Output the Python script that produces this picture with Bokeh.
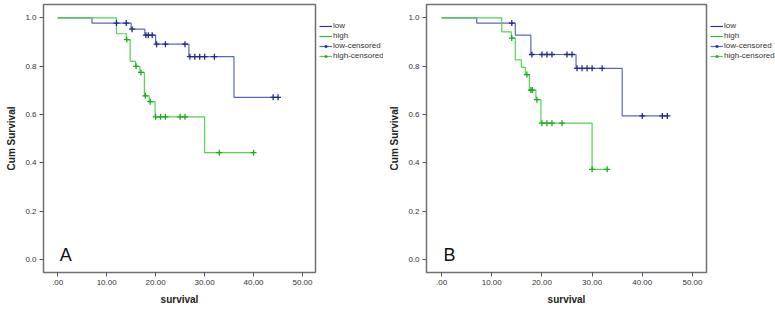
from bokeh.plotting import figure
from bokeh.models import FixedTicker, Legend, LegendItem, Range1d
from bokeh.layouts import row
from bokeh.embed import file_html
from bokeh.resources import INLINE
from bokeh.core.properties import value
import numpy as np

# ---------------- data ----------------
x_ticks = [0, 10, 20, 30, 40, 50]
x_tick_labels = [".00", "10.00", "20.00", "30.00", "40.00", "50.00"]
y_ticks = [0.0, 0.2, 0.4, 0.6, 0.8, 1.0]
y_tick_labels = ["0.0", "0.2", "0.4", "0.6", "0.8", "1.0"]

# Panel A
a_low_t = [0, 7, 15, 17.8, 20, 26.8, 36, 45]
a_low_s = [1.0, 0.978, 0.953, 0.928, 0.891, 0.839, 0.671, 0.671]
a_low_cens = [12, 14, 15.2, 18, 18.5, 19.3, 20.2, 22, 26, 27, 28, 29, 30, 32, 44, 45]

a_high_t = [0, 12, 14, 14.8, 15.9, 16.8, 17.7, 18.7, 19.9, 30, 40]
a_high_s = [1.0, 0.934, 0.91, 0.82, 0.799, 0.774, 0.677, 0.653, 0.59, 0.442, 0.442]
a_high_cens = [14.1, 16, 17, 17.9, 18.9, 20, 21, 22, 25, 26, 33, 40]

# Panel B
b_low_t = [0, 7, 14.7, 17.8, 26.8, 36, 45]
b_low_s = [1.0, 0.978, 0.928, 0.848, 0.791, 0.594, 0.594]
b_low_cens = [14, 18, 20, 21, 22, 25, 26, 27, 28, 29, 30, 32, 40, 44, 45]

b_high_t = [0, 12, 13.9, 14.7, 15.9, 16.7, 17.5, 18.8, 19.8, 30, 33]
b_high_s = [1.0, 0.942, 0.916, 0.826, 0.795, 0.765, 0.701, 0.661, 0.564, 0.373, 0.373]
b_high_cens = [14, 17, 17.8, 18.1, 19, 20, 21, 22, 24, 30, 33]

labels = ["low", "high", "low-censored", "high-censored"]
panel_letters = ["A", "B"]

LOW_LINE = "#5868c0"
LOW_MARK = "#1f2b86"
LOW_KEY = "#2d3780"
HIGH_LINE = "#52d452"
HIGH_MARK = "#1ea81e"
HIGH_KEY = "#33b833"
FONT = "Liberation Sans"


def step_lookup(t, s, xs):
    t = np.asarray(t, dtype=float)
    s = np.asarray(s, dtype=float)
    idx = np.searchsorted(t, np.asarray(xs, dtype=float), side="right") - 1
    return list(s[idx])


def make_panel(low_t, low_s, low_c, high_t, high_s, high_c, letter,
               total_w, xr):
    p = figure(width=total_w, height=312,
               output_backend="svg", toolbar_location=None,
               x_range=Range1d(*xr), y_range=Range1d(-0.054, 1.055),
               min_border_left=43, min_border_top=4, min_border_bottom=40,
               min_border_right=2)
    p.background_fill_color = "white"
    p.border_fill_color = "white"
    p.outline_line_color = "#707070"
    p.outline_line_width = 1.5
    p.xgrid.visible = False
    p.ygrid.visible = False

    p.step(low_t, low_s, mode="after", line_color=LOW_LINE, line_width=1.2)
    p.step(high_t, high_s, mode="after", line_color=HIGH_LINE, line_width=1.2)
    p.scatter(low_c, step_lookup(low_t, low_s, low_c), marker="cross",
              size=6, line_color=LOW_MARK, line_width=1.3)
    p.scatter(high_c, step_lookup(high_t, high_s, high_c), marker="cross",
              size=6, line_color=HIGH_MARK, line_width=1.3)

    p.text(x=[0.4], y=[0.017], text=[letter], text_font=value(FONT),
           text_font_size="18px", text_baseline="alphabetic", text_align="left",
           text_color="#111111")

    for ax in (p.xaxis, p.yaxis):
        ax.axis_line_color = None
        ax.major_tick_line_color = "#555555"
        ax.major_tick_out = 4
        ax.major_tick_in = 0
        ax.minor_tick_line_color = None
        ax.major_label_text_font = FONT
        ax.major_label_text_font_size = "8px"
        ax.major_label_text_color = "#333333"
        ax.axis_label_text_font = FONT
        ax.axis_label_text_font_size = "10px"
        ax.axis_label_text_font_style = "bold"
        ax.axis_label_text_color = "#222222"
        ax.major_label_standoff = 3

    p.xaxis.ticker = FixedTicker(ticks=x_ticks)
    p.xaxis.major_label_overrides = {t: l for t, l in zip(x_ticks, x_tick_labels)}
    p.yaxis.ticker = FixedTicker(ticks=y_ticks)
    p.yaxis.major_label_overrides = {t: l for t, l in zip(y_ticks, y_tick_labels)}
    p.xaxis.axis_label = "survival"
    p.yaxis.axis_label = "Cum Survival"
    p.xaxis.axis_label_standoff = 6
    p.yaxis.axis_label_standoff = 5
    return p


def make_legend_fig(total_w):
    q = figure(width=total_w, height=312, output_backend="svg",
               toolbar_location=None, x_range=Range1d(0, 1), y_range=Range1d(0, 1),
               min_border_left=2, min_border_top=4, min_border_bottom=40,
               min_border_right=0)
    q.axis.visible = False
    q.grid.visible = False
    q.outline_line_color = None
    q.background_fill_color = "white"
    q.border_fill_color = "white"
    # key glyphs kept outside the visible range; only their legend swatches show
    k1 = q.line([5, 6], [5, 5], line_color=LOW_KEY, line_width=1.2)
    k2 = q.line([5, 6], [5, 5], line_color=HIGH_KEY, line_width=1.2)
    k3 = q.line([5, 6], [5, 5], line_color=LOW_LINE, line_width=1.2)
    k4 = q.line([5, 6], [5, 5], line_color=HIGH_LINE, line_width=1.2)
    m3 = q.scatter([5], [5], marker="cross", size=7, line_color=LOW_MARK, line_width=1.3)
    m4 = q.scatter([5], [5], marker="cross", size=7, line_color=HIGH_MARK, line_width=1.3)
    legend = Legend(items=[
        LegendItem(label=labels[0], renderers=[k1]),
        LegendItem(label=labels[1], renderers=[k2]),
        LegendItem(label=labels[2], renderers=[k3, m3]),
        LegendItem(label=labels[3], renderers=[k4, m4]),
    ], location=(0, 212))
    legend.label_text_font = FONT
    legend.label_text_font_size = "8px"
    legend.label_text_color = "#333333"
    legend.label_height = 8
    legend.glyph_height = 8
    legend.glyph_width = 13
    legend.label_standoff = 1
    legend.spacing = 1
    legend.padding = 0
    legend.margin = 0
    legend.border_line_color = None
    legend.background_fill_alpha = 0
    q.add_layout(legend, "center")
    return q


pA = make_panel(a_low_t, a_low_s, a_low_cens, a_high_t, a_high_s, a_high_cens,
                panel_letters[0], 317, (-2.9, 52.65))
lA = make_legend_fig(66)
pB = make_panel(b_low_t, b_low_s, b_low_cens, b_high_t, b_high_s, b_high_cens,
                panel_letters[1], 325, (-3.0, 52.8))
lB = make_legend_fig(67)

layout = row(pA, lA, pB, lB)
open("out.html", "w").write(file_html(layout, INLINE))
